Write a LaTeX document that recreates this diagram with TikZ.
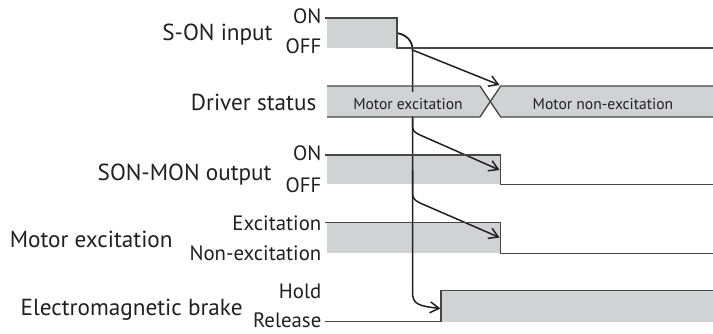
\documentclass[tikz,border=0pt]{standalone}
\usepackage{fontspec}
\setmainfont{PT Sans}
\usetikzlibrary{arrows.meta}
\definecolor{wavefill}{RGB}{209,210,212}
\definecolor{waveline}{RGB}{70,70,72}
\definecolor{ink}{RGB}{35,31,32}

\begin{document}
\begin{tikzpicture}[
    x=0.5pt, y=-0.5pt,
    signame/.style={anchor=base east, inner sep=0pt, text=ink, font=\fontsize{11.6}{13}\selectfont},
    level/.style={anchor=base east, inner sep=0pt, text=ink, font=\fontsize{10.4}{12}\selectfont},
    state/.style={anchor=base, inner xsep=1pt, inner ysep=0pt, text height=8.6pt, text depth=3.4pt, fill=wavefill, text=ink, font=\fontsize{7.8}{9}\selectfont},
    wave/.style={draw=waveline, line width=0.65pt},
    arrow/.style={-{Straight Barb[length=4.5pt,width=5.5pt]}, draw=ink, line width=0.75pt}
]

\useasboundingbox (0,0) rectangle (713,333);

% Signal names
\node[signame] (son) at (273,40.7) {S-ON input};
\node[signame] (drv) at (316.7,110) {Driver status};
\node[signame] (mon) at (272,180.5) {SON-MON output};
\node[signame] (exc) at (173,247.3) {Motor excitation};
\node[signame] (brk) at (243,315) {Electromagnetic brake};

% Levels
\node[level] (sonhi) at (321.7,23.3) {ON};
\node[level] (sonlo) at (321.7,53.3) {OFF};
\node[level] (monhi) at (321.7,160.7) {ON};
\node[level] (monlo) at (321.7,192.7) {OFF};
\node[level] (exchi) at (321.7,230) {Excitation};
\node[level] (exclo) at (321.7,260) {Non-excitation};
\node[level] (brkhi) at (321.7,298.3) {Hold};
\node[level] (brklo) at (321.7,327.3) {Release};

% Waveform fills
\fill[wavefill] (327,18) rectangle (397,48);
\fill[wavefill] (327,86) -- (480,86) -- (490,101.5) -- (480,117) -- (327,117) -- cycle;
\fill[wavefill] (713,86) -- (500.7,86) -- (490,101.5) -- (500.7,117) -- (713,117) -- cycle;
\fill[wavefill] (327,155) rectangle (500.7,184.3);
\fill[wavefill] (327,222.7) rectangle (500.7,253.3);
\fill[wavefill] (441,290.7) rectangle (713,321.7);

% Timing arrows
\coordinate (fall) at (397,33);
\coordinate (drvtip) at (499.5,85);
\coordinate (montip) at (499.5,170);
\coordinate (exctip) at (499.5,237.5);
\coordinate (brktip) at (440.5,308.5);

\draw[arrow] (fall) .. controls (407,35) and (412.5,41) .. (412.5,50) -- (drvtip);
\draw[arrow] (fall) .. controls (407,35) and (412.5,41) .. (412.5,50) -- (412.5,292) .. controls (412.5,304) and (418,306) .. (brktip);
\draw[arrow] (412.5,118) -- (412.5,125) .. controls (412.5,131) and (414,132) .. (420,135) -- (montip);
\draw[arrow] (412.5,170) -- (412.5,192) .. controls (412.5,198) and (414,200) .. (420,203) -- (exctip);

% Driver status texts
\node[state] (drvon) at (408,109.3) {Motor excitation};
\node[state] (drvoff) at (603,109.3) {Motor non-excitation};

% Waveform outlines
\draw[wave] (325,18) -- (397,18) -- (397,48) -- (713,48);
\draw[wave] (327,86) -- (480,86) -- (500.7,117) -- (713,117);
\draw[wave] (327,117) -- (480,117) -- (500.7,86) -- (713,86);
\draw[wave] (325,155) -- (500.7,155) -- (500.7,184.3) -- (713,184.3);
\draw[wave] (325,222.7) -- (500.7,222.7) -- (500.7,253.3) -- (713,253.3);
\draw[wave] (325,321.7) -- (441,321.7) -- (441,290.7) -- (713,290.7);

\end{tikzpicture}
\end{document}
